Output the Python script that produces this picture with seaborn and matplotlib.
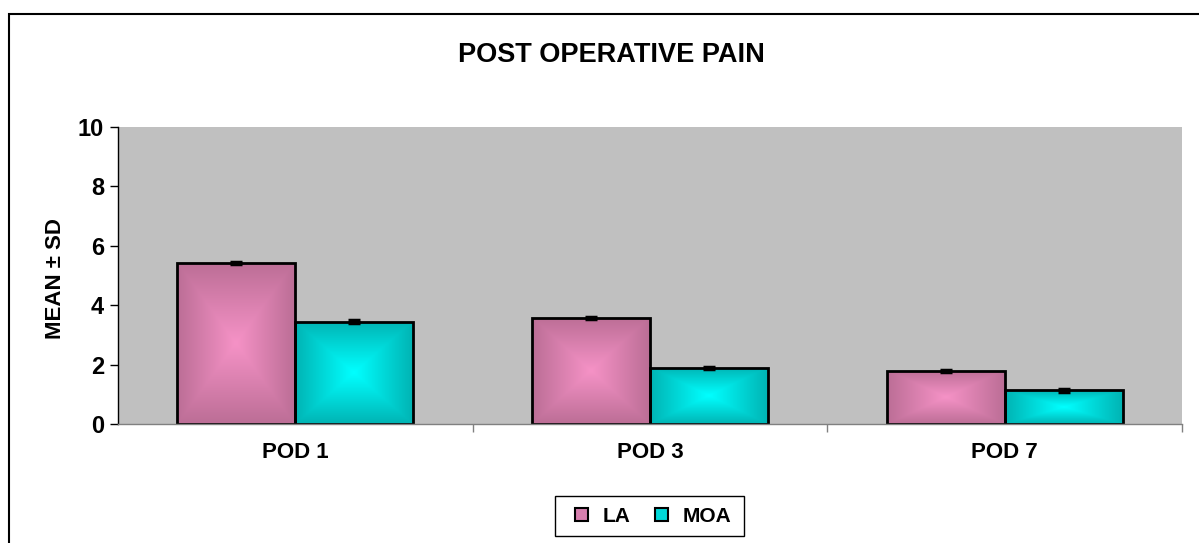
import numpy as np
import pandas as pd
import matplotlib
matplotlib.use("Agg")
import matplotlib.pyplot as plt
import matplotlib.patches as mpatches
from matplotlib.colors import LinearSegmentedColormap
import seaborn as sns

categories = ["POD 1", "POD 3", "POD 7"]
groups = ["LA", "MOA"]
la_mean = [5.41, 3.57, 1.79]
moa_mean = [3.45, 1.89, 1.14]
la_sd = [0.04, 0.04, 0.04]
moa_sd = [0.04, 0.04, 0.04]
y_ticks = [0, 2, 4, 6, 8, 10]

df = pd.DataFrame({
    "pod": categories * 2,
    "group": ["LA"] * 3 + ["MOA"] * 3,
    "mean": la_mean + moa_mean,
    "sd": la_sd + moa_sd,
})

sns.set_theme(style="white")
plt.rcParams["font.family"] = ["Liberation Sans", "DejaVu Sans"]
plt.rcParams["text.color"] = "black"
plt.rcParams["axes.labelcolor"] = "black"
plt.rcParams["xtick.color"] = "black"
plt.rcParams["ytick.color"] = "black"

W, H = 1199, 543
fig = plt.figure(figsize=(W / 100, H / 100), dpi=100)
ax = fig.add_axes([118 / W, (H - 424.3) / H, (1182 - 118) / W, (424.3 - 126.7) / H])
ax.set_facecolor("#C0C0C0")

center_cols = {"LA": "#F592C6", "MOA": "#00FFFF"}
edge_cols = {"LA": "#BC6E96", "MOA": "#00B4B4"}

sns.barplot(data=df, x="pod", y="mean", hue="group", order=categories,
            hue_order=groups, palette=center_cols, edgecolor="black",
            linewidth=2, width=0.665, errorbar=None, ax=ax, legend=False,
            saturation=1)

# gradient fills and error bars
yy, xx = np.mgrid[-1:1:120j, -1:1:120j]
t = np.maximum(np.abs(xx), np.abs(yy))
for gi, g in enumerate(groups):
    cont = ax.containers[gi]
    cmap = LinearSegmentedColormap.from_list(g, [center_cols[g], edge_cols[g]])
    sub = df[df.group == g].set_index("pod").loc[categories]
    for bar, m, s in zip(cont.patches, sub["mean"], sub["sd"]):
        x0, y0 = bar.get_x(), bar.get_y()
        w, h = bar.get_width(), bar.get_height()
        im = ax.imshow(t, cmap=cmap, extent=[x0, x0 + w, y0, y0 + h],
                       origin="lower", aspect="auto", zorder=1.5, interpolation="bilinear")
        im.set_clip_path(bar)
        bar.set_facecolor("none")
        bar.set_zorder(2)
        ax.errorbar(x0 + w / 2, m, yerr=s, fmt="none", ecolor="black",
                    elinewidth=1.2, capsize=4, capthick=2.5, zorder=3)

ax.set_xlim(-0.5, 2.5)
ax.set_ylim(0, 10)
ax.set_yticks(y_ticks)
ax.set_yticklabels([str(v) for v in y_ticks], fontsize=17, fontweight="bold")
ax.set_xticks(range(3))
ax.set_xticklabels(categories, fontsize=16, fontweight="bold")
ax.set_xticks([0.5, 1.5, 2.5], minor=True)
ax.tick_params(axis="x", which="major", length=0, pad=13)
ax.tick_params(axis="x", which="minor", length=6, color="#808080", direction="out", bottom=True)
ax.tick_params(axis="y", length=6, width=1, color="black", direction="out", left=True, pad=4)
ax.set_xlabel("")
ax.set_ylabel("MEAN ± SD", fontsize=16, fontweight="bold", labelpad=10)
ax.yaxis.set_label_coords(-52 / (1182 - 118), (424.3 - 279) / (424.3 - 126.7))

for sp in ["top", "right"]:
    ax.spines[sp].set_visible(False)
ax.spines["left"].set_color("black")
ax.spines["left"].set_linewidth(1)
ax.spines["bottom"].set_color("#808080")
ax.spines["bottom"].set_linewidth(1)

fig.text(611 / W, 1 - 55 / H, "POST OPERATIVE PAIN", ha="center", va="center",
         fontsize=19.5, fontweight="bold")

handles = [mpatches.Patch(facecolor="#D77FAE", edgecolor="black", linewidth=1.5, label="LA"),
           mpatches.Patch(facecolor="#00D8D8", edgecolor="black", linewidth=1.5, label="MOA")]
leg = fig.legend(handles=handles, loc="center", bbox_to_anchor=(653 / W, 1 - 516 / H),
                 ncol=2, frameon=False,
                 prop={"weight": "bold", "size": 15}, handlelength=0.6, handleheight=0.6,
                 handletextpad=0.7, columnspacing=1.2, borderpad=0, borderaxespad=0)

# legend frame
fig.patches.append(mpatches.Rectangle((555 / W, 1 - 536 / H), (744 - 555) / W, 40 / H,
                                      transform=fig.transFigure, fill=False,
                                      edgecolor="black", linewidth=1))

# outer chart frame
frame = mpatches.Rectangle((9 / W, -0.05), 1.2, 1 - 14 / H + 0.05, transform=fig.transFigure,
                           fill=False, edgecolor="black", linewidth=1.5)
fig.patches.append(frame)

fig.savefig("out.png", dpi=100)
